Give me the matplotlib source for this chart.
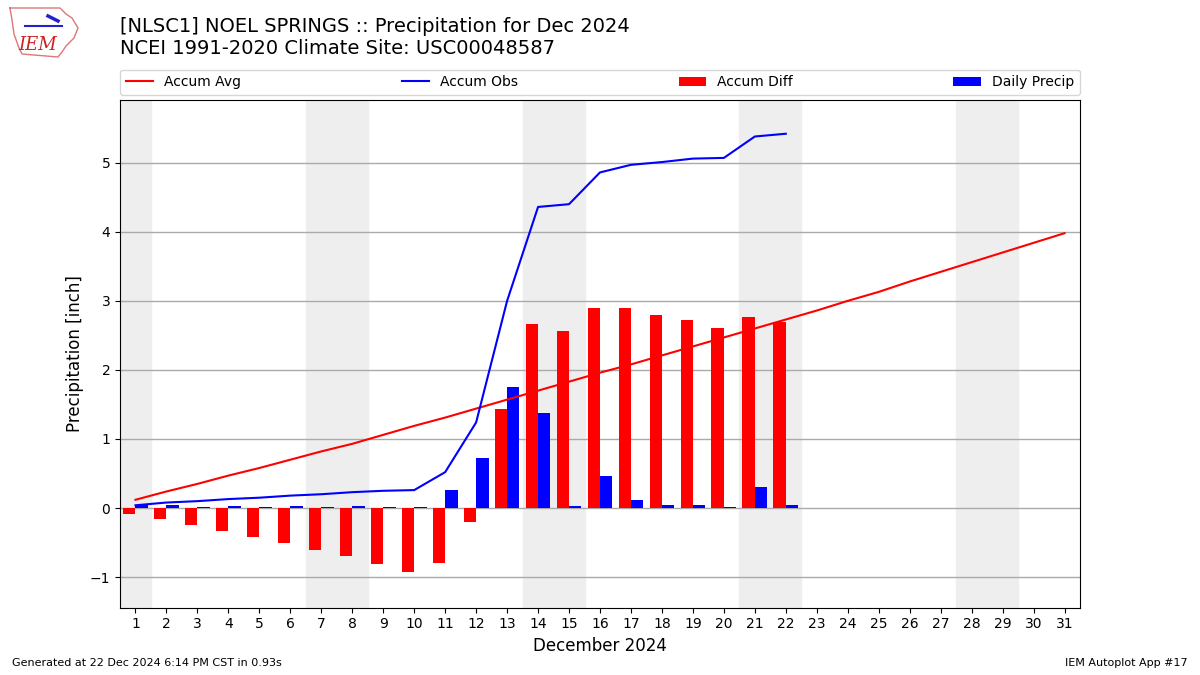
import matplotlib.pyplot as plt

# days of December 2024
days = list(range(1, 32))
obs_days = list(range(1, 23))

# accumulated climatology (inch)
accum_avg = [0.12, 0.24, 0.35, 0.47, 0.58, 0.70, 0.82, 0.93, 1.06, 1.19,
             1.31, 1.44, 1.57, 1.70, 1.83, 1.96, 2.08, 2.21, 2.34, 2.47,
             2.60, 2.73, 2.86, 3.00, 3.13, 3.28, 3.42, 3.56, 3.70, 3.84, 3.98]

# accumulated observed precip (inch)
accum_obs = [0.04, 0.08, 0.10, 0.13, 0.15, 0.18, 0.20, 0.23, 0.25, 0.26,
             0.52, 1.24, 3.00, 4.36, 4.40, 4.86, 4.97, 5.01, 5.06, 5.07,
             5.38, 5.42]

# observed minus average
accum_diff = [-0.09, -0.16, -0.25, -0.33, -0.42, -0.51, -0.61, -0.70, -0.81, -0.93,
              -0.79, -0.20, 1.43, 2.67, 2.57, 2.90, 2.89, 2.79, 2.72, 2.60,
              2.77, 2.69]

daily_precip = [0.04, 0.05, 0.02, 0.03, 0.02, 0.03, 0.02, 0.03, 0.02, 0.01,
                0.26, 0.72, 1.76, 1.37, 0.03, 0.46, 0.11, 0.04, 0.05, 0.01,
                0.31, 0.04]

weekends = [(0.5, 1.5), (6.5, 8.5), (13.5, 15.5), (20.5, 22.5), (27.5, 29.5)]

fig = plt.figure(figsize=(12, 6.75), dpi=100)
ax = fig.add_axes([0.1, 0.1, 0.8, 0.752])

for a, b in weekends:
    ax.axvspan(a, b, color='#eeeeee', zorder=0)

ax.plot(days, accum_avg, color='r', lw=1.5, label='Accum Avg', zorder=3)
ax.plot(obs_days, accum_obs, color='b', lw=1.5, label='Accum Obs', zorder=3)
ax.bar(obs_days, accum_diff, width=-0.4, align='edge', color='r',
       label='Accum Diff', zorder=2)
ax.bar(obs_days, daily_precip, width=0.4, align='edge', color='b',
       label='Daily Precip', zorder=2)

ax.set_xlim(0.5, 31.5)
ax.set_ylim(-1.44, 5.91)
ax.set_xticks(days)
ax.set_yticks(range(-1, 6))
ax.set_axisbelow(True)
ax.grid(axis='y', color='#aaaaaa', lw=1)
ax.set_ylabel('Precipitation [inch]', fontsize=12)
ax.set_xlabel('December 2024', fontsize=12)

ax.legend(loc='lower left', bbox_to_anchor=(0, 1.01, 1, 0.05), ncol=4,
          mode='expand', borderaxespad=0, fontsize=10)

fig.text(0.1, 0.975, '[NLSC1] NOEL SPRINGS :: Precipitation for Dec 2024\n'
         'NCEI 1991-2020 Climate Site: USC00048587', fontsize=14, va='top')

# rough IEM logo (Iowa outline + text)
px = [10, 60, 66, 72, 78, 74, 66, 62, 58, 22, 19, 14, 12, 10]
py = [8, 8, 14, 18, 28, 38, 46, 52, 57, 54, 48, 34, 20, 8]
fig.add_artist(plt.Line2D([v / 1200 for v in px], [1 - v / 675 for v in py],
                          color='#dd7777', lw=1, transform=fig.transFigure))
fig.add_artist(plt.Line2D([25 / 1200, 62 / 1200], [1 - 26 / 675, 1 - 26 / 675],
                          color='#2222cc', lw=1.5, transform=fig.transFigure))
fig.add_artist(plt.Line2D([48 / 1200, 58 / 1200], [1 - 16 / 675, 1 - 21 / 675],
                          color='#2222cc', lw=2.5, transform=fig.transFigure))
fig.text(0.031, 0.933, 'IEM', color='#cc2222', fontsize=13, style='italic',
         family='serif', ha='center', va='center')

fig.text(0.01, 0.013, 'Generated at 22 Dec 2024 6:14 PM CST in 0.93s', fontsize=8)
fig.text(0.99, 0.013, 'IEM Autoplot App #17', fontsize=8, ha='right')

fig.savefig('out.png', dpi=100)
